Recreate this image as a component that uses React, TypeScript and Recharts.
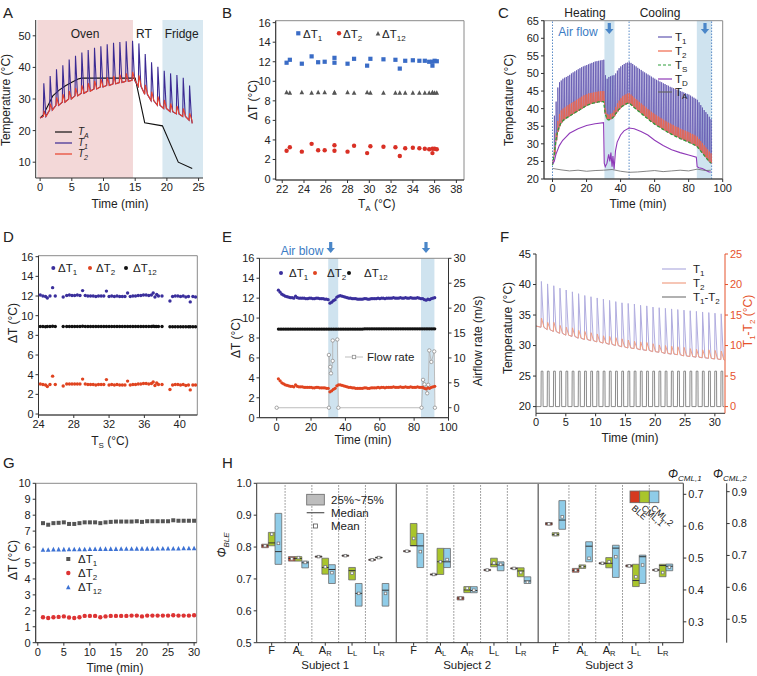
import React from 'react';
import { ComposedChart, Line, Scatter, XAxis, YAxis, ReferenceArea, ReferenceLine } from 'recharts';

// ---------------- data ----------------

// A: oven / RT / fridge cycling
const aSpikeTimes = [0.5, 1.5, 2.5, 3.5, 4.5, 5.5, 6.5, 7.5, 8.5, 9.5, 10.5, 11.5, 12.5, 13.5, 14.5, 15.5, 16.5, 17.5, 18.5, 19.5, 20.5, 21.5, 22.5, 23.5];
const aT1Peak = [35, 37.3, 39.4, 40.7, 42.5, 43.7, 44.7, 45.5, 46.2, 46.7, 47.3, 47.8, 48, 48.3, 48.4, 47.6, 44.2, 41.6, 40.2, 38.9, 38.1, 37.6, 36.7, 34.3];
const aT2Peak = [26, 28.5, 30.5, 31.5, 32.5, 33.5, 34.3, 35, 35.7, 36.3, 36.8, 37.3, 37.7, 38.1, 38.6, 37.5, 34.5, 32.3, 30.8, 29.7, 28.6, 27.8, 27, 25.5];
const aBase = [24.5, 26.5, 28, 29, 30, 31, 31.8, 32.5, 33.2, 33.8, 34.3, 34.8, 35.2, 35.6, 35.9, 34, 31.5, 29.5, 28, 27, 26, 25.3, 24.5, 23.3];
const aStart = { x: 0, y: 24 };
const aEnd = { x: 24, y: 22.3 };
const aTaTime = [0, 0.5, 1, 1.5, 2, 3, 4, 5, 6, 6.5, 15, 16.5, 19.3, 21.8, 24];
const aTaVal = [24, 25, 27, 29, 31, 32.8, 34.2, 35.3, 36.3, 36.6, 36.6, 22.5, 21.5, 10, 8];
const aZoneName = ['Oven', 'Fridge'];
const aZoneFrom = [-0.45, 19.3];
const aZoneTo = [14.65, 25.7];

// B: dT vs ambient temperature
const bTa = [22.4, 22.7, 23.8, 24.7, 25.3, 25.9, 26.8, 26.8, 28.0, 28.6, 29.8, 30.1, 31.3, 32.4, 32.8, 33.3, 34.0, 34.6, 35.1, 35.5, 35.8, 35.8, 36.0, 36.2];
const bDT1 = [11.9, 12.2, 11.8, 12.55, 11.95, 12.0, 12.4, 11.9, 11.8, 12.3, 11.6, 12.3, 12.25, 12.2, 11.3, 12.1, 12.15, 12.1, 12.1, 12.0, 12.0, 11.6, 12.1, 12.05];
const bDT2 = [2.9, 3.25, 2.8, 3.6, 2.95, 2.95, 3.45, 2.9, 2.8, 3.4, 2.65, 3.35, 3.3, 3.25, 2.35, 3.15, 3.2, 3.15, 3.1, 3.05, 3.1, 2.65, 3.1, 3.05];
const bDT12 = [8.9, 8.85, 8.9, 8.85, 8.9, 8.9, 8.9, 8.85, 8.9, 8.85, 8.9, 8.85, 8.85, 8.85, 8.85, 8.85, 8.85, 8.85, 8.85, 8.85, 8.85, 8.9, 8.85, 8.85];

// C: heating / cooling with air flow (one pulse per minute, t = 1..93)
const cT1Peak = [
  38, 42, 46, 47.5, 48, 48.5, 48.8, 49, 49.3, 49.6,
  50, 50.3, 50.6, 50.9, 51.2, 51.5, 51.8, 52, 52.2, 52.4,
  52.6, 52.8, 53, 53.2, 53.4, 53.5, 53.6, 53.7, 53.8, 53.9,
  49.5, 48.5, 49, 49.2, 49.4, 49.5, 50, 50.8, 51.5, 52,
  52.4, 52.7, 53, 53.1, 53.2, 53, 52.7, 52.3, 52, 51.6,
  51.3, 51, 50.6, 50.3, 50, 49.7, 49.4, 49.1, 48.8, 48.5,
  48.2, 48, 47.7, 47.5, 47.2, 47, 46.7, 46.5, 46.2, 46,
  45.8, 45.6, 45.4, 45.2, 45, 44.8, 44.6, 44.4, 44.2, 44,
  43.7, 43.4, 43.1, 42.8, 42.5, 41.8, 41, 40.3, 39.6, 39,
  38.4, 37.7, 37,
];
const cT2Peak = [
  28.5, 33, 36.5, 38.5, 39.5, 40, 40.3, 40.6, 41, 41.3,
  41.6, 41.9, 42.2, 42.5, 42.8, 43.1, 43.4, 43.7, 43.9, 44.1,
  44.3, 44.4, 44.5, 44.6, 44.7, 44.8, 44.9, 45, 45, 45,
  40, 38.5, 38.3, 38.5, 38.8, 39.5, 40.5, 41.5, 42.3, 43,
  43.5, 43.8, 44.1, 44.3, 44.4, 44, 43.6, 43.1, 42.7, 42.3,
  41.9, 41.5, 41.1, 40.7, 40.3, 39.9, 39.5, 39.1, 38.8, 38.4,
  38.1, 37.8, 37.5, 37.2, 36.9, 36.6, 36.3, 36, 35.8, 35.5,
  35.3, 35, 34.8, 34.6, 34.3, 34.1, 33.9, 33.7, 33.5, 33.3,
  33, 32.8, 32.6, 32.3, 32, 31.4, 30.8, 30.2, 29.6, 29,
  28.4, 27.8, 27.3,
];
const cTs = [
  27, 31, 33.5, 35, 36, 36.5, 37, 37.3, 37.6, 37.9,
  38.2, 38.5, 38.8, 39.1, 39.4, 39.7, 40, 40.3, 40.6, 40.9,
  41.1, 41.3, 41.5, 41.6, 41.7, 41.8, 41.9, 42, 42, 42,
  38.5, 37, 36.8, 37, 37.3, 37.8, 38.5, 39.2, 39.8, 40.3,
  40.7, 41, 41.3, 41.5, 41.6, 41.2, 40.8, 40.3, 39.9, 39.5,
  39.1, 38.7, 38.3, 37.9, 37.5, 37.1, 36.7, 36.3, 36, 35.6,
  35.3, 35, 34.7, 34.4, 34.1, 33.8, 33.5, 33.2, 33, 32.7,
  32.5, 32.2, 32, 31.8, 31.5, 31.3, 31.1, 30.9, 30.7, 30.5,
  30.2, 30, 29.8, 29.5, 29.2, 28.6, 28, 27.4, 26.8, 26.2,
  25.6, 25, 24.5,
];
const cStart = { x: 0, y: 24 };
const cTdTime = [0, 1, 2, 4, 6, 8, 10, 15, 20, 25, 30, 30.4, 31, 32, 33, 33.7, 34.3, 35, 35.5, 36.2, 37, 38, 40, 42, 45, 48, 52, 56, 60, 65, 70, 75, 80, 84.5, 85, 86, 88, 90, 92, 93];
const cTdVal = [24.3, 25, 27, 29.5, 31, 32, 33, 34.3, 35.2, 35.7, 36, 24.5, 23.5, 24.5, 27, 25, 27.5, 23.5, 26.5, 22.8, 28, 30.5, 32.5, 33.7, 34.5, 34.3, 33.5, 32.5, 31, 29.5, 28.3, 27.5, 26.8, 26.2, 23.5, 23.2, 23, 22.5, 22, 22];
const cTaTime = [0, 5, 10, 15, 20, 25, 30, 35, 40, 45, 50, 55, 60, 65, 70, 75, 80, 85, 90, 93];
const cTaVal = [23, 22.6, 22.3, 22.5, 22.2, 22.4, 22.5, 22.7, 22.2, 21.9, 22, 22.2, 22.4, 22.1, 22.3, 22.5, 22.3, 22.8, 22.4, 22.5];
const cFlowFrom = [30.5, 84.8];
const cFlowTo = [36.4, 93.5];
const cMarkers = [0, 45, 93.5];

// D: dT vs skin temperature
const dTs = [
  24.2, 24.5, 24.8, 25.0, 25.3, 25.6, 25.9, 26.8, 27.2, 27.5,
  27.8, 28.1, 28.4, 28.7, 29.0, 29.3, 29.6, 29.9, 30.2, 30.5,
  30.8, 31.1, 31.4, 31.7, 32.0, 32.3, 32.6, 32.9, 33.2, 33.5,
  33.8, 34.1, 34.4, 34.7, 35.0, 35.3, 35.6, 35.9, 36.2, 36.5,
  36.8, 37.0, 37.2, 37.4, 37.6, 38.0, 38.9, 39.2, 39.5, 39.8,
  40.1, 40.4, 40.7, 41.0, 41.2, 41.5, 41.8,
];
const dDT1 = [
  12.1, 12.0, 11.95, 11.8, 12.0, 12.85, 12.0, 11.9, 12.05, 12.1,
  12.05, 12.05, 12.1, 12.05, 12.55, 12.05, 12.0, 12.0, 12.0, 11.95,
  12.0, 12.0, 12.0, 12.5, 11.95, 12.0, 11.95, 12.0, 11.95, 11.95,
  11.95, 12.3, 11.95, 12.0, 12.0, 12.05, 12.05, 12.1, 12.1, 12.05,
  12.1, 12.3, 11.9, 12.15, 12.0, 12.0, 11.5, 11.95, 12.0, 12.0,
  11.95, 12.0, 11.9, 11.95, 11.4, 11.95, 11.9,
];
const dDT2 = [
  3.05, 3.0, 2.95, 2.8, 3.0, 3.85, 3.0, 2.85, 3.05, 3.05,
  3.05, 3.05, 3.05, 3.05, 3.55, 3.05, 3.0, 3.0, 3.0, 2.95,
  3.0, 3.0, 3.0, 3.5, 2.95, 3.0, 2.95, 3.0, 2.95, 2.95,
  2.95, 3.35, 2.95, 3.0, 3.0, 3.05, 3.05, 3.1, 3.1, 3.05,
  3.1, 3.25, 2.9, 3.15, 3.0, 3.0, 2.5, 2.95, 3.0, 3.0,
  2.95, 3.0, 2.9, 2.95, 2.45, 2.95, 2.95,
];
const dDT12 = [
  8.9, 8.9, 8.88, 8.9, 8.9, 8.92, 8.9, 8.9, 8.9, 8.9,
  8.9, 8.9, 8.9, 8.9, 8.92, 8.9, 8.9, 8.9, 8.9, 8.9,
  8.9, 8.9, 8.9, 8.9, 8.9, 8.9, 8.9, 8.9, 8.9, 8.9,
  8.9, 8.9, 8.9, 8.9, 8.9, 8.9, 8.9, 8.9, 8.9, 8.9,
  8.9, 8.92, 8.9, 8.9, 8.9, 8.9, 8.88, 8.88, 8.88, 8.88,
  8.88, 8.88, 8.88, 8.88, 8.88, 8.88, 8.88,
];

// E: dT over time with air blow (t = 1..92 min)
const eDT1 = [
  12.8, 12.6, 12.4, 12.3, 12.2, 12.15, 12.1, 12.05, 12.05, 12.0,
  12.2, 12.05, 12.0, 12.0, 12.0, 12.0, 11.95, 11.95, 12.0, 12.0,
  11.95, 11.95, 12.0, 12.0, 11.95, 11.95, 11.95, 11.9, 11.9, 11.85,
  11.5, 11.6, 11.75, 11.85, 12.1, 12.2, 12.25, 12.2, 12.15, 12.1,
  12.05, 12.0, 12.0, 11.95, 11.95, 11.95, 11.9, 11.9, 11.9, 11.9,
  11.95, 11.95, 11.9, 11.9, 11.95, 11.95, 11.95, 11.95, 12.0, 11.95,
  12.0, 12.0, 11.95, 12.0, 12.0, 12.0, 12.0, 12.05, 12.0, 12.0,
  12.0, 12.05, 12.0, 12.0, 12.05, 12.0, 12.0, 12.05, 12.0, 12.0,
  12.0, 12.05, 12.0, 11.95, 11.95, 11.85, 11.8, 11.9, 11.85, 11.95,
  12.0, 12.05,
];
const eDT2 = [
  3.9, 3.7, 3.5, 3.4, 3.3, 3.25, 3.2, 3.15, 3.15, 3.1,
  3.3, 3.15, 3.1, 3.1, 3.1, 3.05, 3.05, 3.05, 3.05, 3.05,
  3.0, 3.0, 3.05, 3.05, 3.0, 3.0, 3.0, 3.0, 2.95, 2.95,
  2.6, 2.7, 2.85, 2.95, 3.2, 3.3, 3.3, 3.25, 3.2, 3.15,
  3.1, 3.05, 3.05, 3.0, 3.0, 2.95, 2.95, 2.95, 2.95, 2.95,
  3.0, 3.0, 2.95, 2.95, 3.0, 3.0, 3.0, 3.0, 3.05, 3.0,
  3.05, 3.05, 3.0, 3.05, 3.05, 3.05, 3.05, 3.1, 3.05, 3.05,
  3.05, 3.1, 3.05, 3.05, 3.1, 3.05, 3.05, 3.1, 3.05, 3.05,
  3.05, 3.1, 3.05, 3.05, 3.05, 2.95, 2.9, 3.0, 2.95, 3.05,
  3.1, 3.15,
];
const eDT12 = [
  8.9, 8.9, 8.9, 8.9, 8.9, 8.9, 8.9, 8.9, 8.9, 8.9,
  8.9, 8.9, 8.9, 8.9, 8.9, 8.9, 8.9, 8.9, 8.9, 8.9,
  8.9, 8.9, 8.9, 8.9, 8.9, 8.9, 8.9, 8.9, 8.9, 8.9,
  8.9, 8.9, 8.9, 8.9, 8.9, 8.9, 8.9, 8.9, 8.9, 8.9,
  8.9, 8.9, 8.9, 8.9, 8.9, 8.9, 8.9, 8.9, 8.9, 8.9,
  8.92, 8.92, 8.92, 8.92, 8.92, 8.92, 8.92, 8.92, 8.92, 8.92,
  8.92, 8.92, 8.92, 8.92, 8.92, 8.92, 8.92, 8.92, 8.92, 8.92,
  8.92, 8.92, 8.92, 8.92, 8.92, 8.92, 8.92, 8.92, 8.92, 8.92,
  8.92, 8.92, 8.92, 8.92, 8.92, 8.92, 8.92, 8.92, 8.92, 8.92,
  8.92, 8.92,
];
const eFlowTime = [0, 30.4, 30.4, 31.2, 31.6, 32.6, 32.6, 35.3, 35.9, 84.3, 85.2, 86.0, 87.6, 88.2, 88.8, 90.0, 91.7, 92.1];
const eFlowVal = [0, 0, 10.6, 8.2, 6.9, 9.4, 13.5, 13.7, 0, 0, 5.6, 4.7, 2.9, 4.6, 11.5, 9.2, 11.3, 0];
const eBlowFrom = [30, 84];
const eBlowTo = [35.8, 91.8];

// F: pulse train over 30 min
const fSpikeTimes = [0.84, 1.88, 2.92, 3.96, 5.0, 6.04, 7.08, 8.12, 9.16, 10.2, 11.24, 12.28, 13.32, 14.36, 15.4, 16.44, 17.48, 18.52, 19.56, 20.6, 21.64, 22.68, 23.72, 24.76, 25.8, 26.84, 27.88, 28.92, 29.96, 31.0];
const fT1Peak = [40.5, 40.1, 39.8, 39.4, 39.1, 38.8, 38.5, 38.2, 38.0, 37.8, 37.6, 37.4, 37.2, 37.0, 36.9, 36.8, 36.6, 36.5, 36.3, 36.2, 36.1, 36.0, 35.9, 35.8, 35.7, 35.6, 35.5, 35.4, 35.3, 35.2];
const fT2Peak = [34.5, 33.8, 33.8, 33.3, 33.0, 32.9, 32.5, 32.3, 32.1, 31.9, 31.6, 31.5, 31.3, 31.1, 30.9, 30.7, 30.6, 30.5, 30.3, 30.1, 30.0, 29.9, 29.8, 29.7, 29.5, 29.4, 29.3, 29.3, 29.2, 29.1];
const fBase = [33.0, 32.6, 32.3, 32.0, 31.7, 31.5, 31.2, 31.0, 30.8, 30.6, 30.4, 30.2, 30.0, 29.8, 29.6, 29.5, 29.3, 29.2, 29.0, 28.9, 28.7, 28.6, 28.5, 28.3, 28.2, 28.1, 28.0, 27.9, 27.8, 27.7];
const fDiffPeak = [5.8, 5.8, 5.8, 5.8, 5.8, 5.8, 5.8, 5.8, 5.8, 5.8, 5.8, 5.8, 5.8, 5.8, 5.8, 5.8, 5.8, 5.8, 5.8, 5.8, 5.8, 5.8, 5.8, 5.8, 5.8, 5.8, 5.8, 5.8, 5.8, 5.8];
const fStart = { x: 0, y: 33.2 };
const fEnd = { x: 31.6, y: 27.6 };

// G: dT over 30 min
const gDT1 = [7.5, 7.4, 7.5, 7.52, 7.55, 7.45, 7.45, 7.5, 7.55, 7.55, 7.55, 7.5, 7.55, 7.58, 7.6, 7.6, 7.6, 7.6, 7.62, 7.58, 7.62, 7.62, 7.62, 7.62, 7.62, 7.68, 7.65, 7.65, 7.65, 7.65];
const gDT2 = [1.6, 1.55, 1.6, 1.62, 1.65, 1.58, 1.55, 1.6, 1.68, 1.68, 1.68, 1.6, 1.65, 1.68, 1.68, 1.68, 1.68, 1.7, 1.7, 1.65, 1.7, 1.7, 1.7, 1.7, 1.7, 1.72, 1.7, 1.7, 1.7, 1.72];
const gDT12 = [5.85, 5.85, 5.87, 5.87, 5.87, 5.88, 5.88, 5.88, 5.88, 5.89, 5.89, 5.9, 5.9, 5.9, 5.9, 5.91, 5.91, 5.91, 5.92, 5.92, 5.92, 5.92, 5.93, 5.93, 5.93, 5.93, 5.93, 5.94, 5.94, 5.94];

// H: box stats [q1, q3, median, mean], subject-major, sites F, AL, AR, LL, LR
const hSubjects = ['Subject 1', 'Subject 2', 'Subject 3'];
const hSites = ['F', 'AL', 'AR', 'LL', 'LR'];
const hBle = [
  [0.798, 0.809, 0.804, 0.804], [0.756, 0.770, 0.764, 0.763], [0.768, 0.772, 0.770, 0.770], [0.771, 0.775, 0.773, 0.773], [0.758, 0.762, 0.760, 0.760],
  [0.785, 0.789, 0.787, 0.787], [0.712, 0.716, 0.714, 0.714], [0.634, 0.644, 0.640, 0.640], [0.726, 0.730, 0.728, 0.728], [0.731, 0.735, 0.733, 0.733],
  [0.869, 0.877, 0.873, 0.873], [0.721, 0.733, 0.727, 0.727], [0.747, 0.751, 0.749, 0.749], [0.738, 0.744, 0.741, 0.741], [0.726, 0.730, 0.728, 0.728],
];
const hCml1 = [
  [0.5385, 0.5805, 0.5475, 0.575], [0.4905, 0.5045, 0.4985, 0.5015], [0.4495, 0.4995, 0.4705, 0.4725], [0.4315, 0.4705, 0.4605, 0.4525], [0.500, 0.503, 0.5015, 0.5015],
  [0.5385, 0.6085, 0.539, 0.5615], [0.4485, 0.5305, 0.4885, 0.4885], [0.3915, 0.4105, 0.400, 0.4055], [0.4725, 0.4995, 0.4805, 0.4845], [0.4415, 0.4695, 0.4595, 0.4545],
  [0.5695, 0.5795, 0.574, 0.574], [0.4675, 0.4785, 0.473, 0.473], [0.4695, 0.5015, 0.4835, 0.4885], [0.4105, 0.4805, 0.4295, 0.4415], [0.4415, 0.4805, 0.4765, 0.4545],
];
const hCml2 = [
  [0.672, 0.832, 0.712, 0.738], [0.661, 0.682, 0.677, 0.678], [0.612, 0.671, 0.656, 0.646], [0.541, 0.612, 0.581, 0.581], [0.541, 0.612, 0.591, 0.581],
  [0.662, 0.769, 0.730, 0.712], [0.662, 0.722, 0.680, 0.687], [0.583, 0.602, 0.590, 0.591], [0.652, 0.680, 0.670, 0.672], [0.612, 0.633, 0.620, 0.616],
  [0.782, 0.872, 0.811, 0.821], [0.680, 0.743, 0.729, 0.691], [0.631, 0.732, 0.723, 0.696], [0.612, 0.701, 0.696, 0.670], [0.652, 0.673, 0.666, 0.663],
];

// ---------------- layout / style ----------------

const W = 757;
const H = 676;
const FONT = '"Liberation Sans", Arial, Helvetica, sans-serif';
const AXIS = '#333';
const FRAME = '#8a8a8a';
const BLUE_TXT = '#3b7cc4';
const BAND = '#cfe3ef';
const tickStyle = { fontSize: 11, fill: '#222', fontFamily: FONT };
const layer: React.CSSProperties = { position: 'absolute', left: 0, top: 0, width: W, height: H };

const COL = {
  aTA: '#111', aT1: '#3b2a93', aT2: '#e8412c', oven: '#f3d8d8', fridge: '#d8e8f1',
  bDT1: '#3a6cc6', bDT2: '#d93025', bDT12: '#555',
  cT1: '#6156b0', cT2: '#f0674a', cTS: '#2e9e3a', cTD: '#8f39b8', cTA: '#666',
  dDT1: '#3a2f9c', dDT2: '#e04420', dDT12: '#111', flow: '#9a9a9a',
  fT1: '#b1addf', fT2: '#f0a085', fDiff: '#7d7d7d', fAxis: '#e5532d',
  gDT1: '#555', gDT2: '#dd3333', gDT12: '#3d72d4',
  hBle: '#d5391f', hCml1: '#a9c52b', hCml2: '#8fcce8', hEdge: '#6b6b6b',
};

type Box = { x0: number; y0: number; x1: number; y1: number };
const marginFor = (b: Box, left: number, right: number, bottom: number) => ({
  left: b.x0 - left, right: W - b.x1 - right, top: b.y0, bottom: H - b.y1 - bottom,
});

const xNum = (domain: number[], ticks: number[], extra: any = {}) => ({
  type: 'number' as const, dataKey: 'x', domain, ticks, allowDataOverflow: true, interval: 0,
  tick: tickStyle, tickSize: 3, stroke: AXIS, height: 20, ...extra,
});
const yNum = (domain: number[], ticks: number[], width: number, extra: any = {}) => ({
  type: 'number' as const, domain, ticks, allowDataOverflow: true, interval: 0,
  tick: tickStyle, tickSize: 3, stroke: AXIS, width, ...extra,
});

const pts = (xs: number[], ys: number[]) => xs.map((x, i) => ({ x, y: ys[i] }));
const minutes = (n: number) => Array.from({ length: n }, (_, i) => i + 1);

function spikeLine(times: number[], bases: number[], peaks: number[], rise: number, fall: number, start?: any, end?: any) {
  const out: { x: number; y: number }[] = [];
  if (start) out.push(start);
  times.forEach((t, i) => {
    out.push({ x: t, y: bases[i] });
    out.push({ x: t + rise, y: peaks[i] });
    out.push({ x: t + fall, y: bases[i] });
  });
  if (end) out.push(end);
  return out;
}

function pulseLine(times: number[], heights: number[], rise: number, width: number, start: number, end: number) {
  const out = [{ x: start, y: 0 }];
  times.forEach((t, i) => {
    out.push({ x: t, y: 0 }, { x: t + rise, y: heights[i] }, { x: t + width, y: heights[i] }, { x: t + width + rise, y: 0 });
  });
  out.push({ x: end, y: 0 });
  return out;
}

const sq = (color: string, s = 4, hollow = false) => (p: any) => (
  <rect x={p.cx - s / 2} y={p.cy - s / 2} width={s} height={s} fill={hollow ? '#fff' : color} stroke={color} strokeWidth={hollow ? 0.8 : 0} />
);
const dot = (color: string, r = 2) => (p: any) => <circle cx={p.cx} cy={p.cy} r={r} fill={color} />;
const tri = (color: string, s = 4.6) => (p: any) => (
  <polygon points={`${p.cx},${p.cy - s / 2} ${p.cx - s / 2},${p.cy + s / 2} ${p.cx + s / 2},${p.cy + s / 2}`} fill={color} />
);

const frame = (xd: number[], yd: number[], yAxisId: any = 0) => (
  <ReferenceArea x1={xd[0]} x2={xd[1]} y1={yd[0]} y2={yd[1]} yAxisId={yAxisId} fill="none" stroke={FRAME} strokeWidth={1} />
);

const lineProps = { dot: false, isAnimationActive: false, type: 'linear' as const, activeDot: false };

// ---------------- panels ----------------

const boxA = { x0: 35.7, y0: 20, x1: 203, y1: 178 };
function PanelA() {
  const t1 = spikeLine(aSpikeTimes, aBase, aT1Peak, 0.08, 0.4, aStart, aEnd);
  const t2 = spikeLine(aSpikeTimes, aBase, aT2Peak, 0.1, 0.45, aStart, aEnd);
  const zoneCol = [COL.oven, COL.fridge];
  return (
    <div style={layer}>
      <ComposedChart width={W} height={H} margin={marginFor(boxA, 30, 0, 20)}>
        <XAxis {...xNum([-0.7, 25.7], [0, 5, 10, 15, 20, 25])} />
        <YAxis {...yNum([5, 55], [10, 20, 30, 40, 50], 30)} />
        {aZoneName.map((n, i) => (
          <ReferenceArea key={n} x1={aZoneFrom[i]} x2={aZoneTo[i]} y1={5} y2={55} fill={zoneCol[i]} fillOpacity={1} stroke="none" ifOverflow="hidden" />
        ))}
        <Line data={pts(aTaTime, aTaVal)} dataKey="y" stroke={COL.aTA} strokeWidth={1.1} {...lineProps} />
        <Line data={t1} dataKey="y" stroke={COL.aT1} strokeWidth={1.1} {...lineProps} />
        <Line data={t2} dataKey="y" stroke={COL.aT2} strokeWidth={1.1} {...lineProps} />
      </ComposedChart>
    </div>
  );
}

const boxB = { x0: 275.7, y0: 20.7, x1: 464, y1: 180 };
function PanelB() {
  const xd = [21.4, 38.7];
  const yd = [-0.1, 16.2];
  return (
    <div style={layer}>
      <ComposedChart width={W} height={H} margin={marginFor(boxB, 30, 0, 20)}>
        <XAxis {...xNum(xd, [22, 24, 26, 28, 30, 32, 34, 36, 38])} />
        <YAxis {...yNum(yd, [0, 2, 4, 6, 8, 10, 12, 14, 16], 30)} />
        {frame(xd, yd)}
        <Scatter data={pts(bTa, bDT12)} dataKey="y" shape={tri(COL.bDT12)} isAnimationActive={false} />
        <Scatter data={pts(bTa, bDT2)} dataKey="y" shape={dot(COL.bDT2, 2.2)} isAnimationActive={false} />
        <Scatter data={pts(bTa, bDT1)} dataKey="y" shape={sq(COL.bDT1, 4.2)} isAnimationActive={false} />
      </ComposedChart>
    </div>
  );
}

const boxC = { x0: 544, y0: 20.7, x1: 722.7, y1: 179 };
function PanelC() {
  const xd = [-5, 100];
  const yd = [20, 65];
  const times = minutes(cT1Peak.length);
  const t1 = spikeLine(times, cTs, cT1Peak, 0.12, 0.45, cStart);
  const t2 = spikeLine(times, cTs, cT2Peak, 0.12, 0.5, cStart);
  const ts = [cStart, ...pts(times, cTs)];
  return (
    <div style={layer}>
      <ComposedChart width={W} height={H} margin={marginFor(boxC, 30, 0, 20)}>
        <XAxis {...xNum(xd, [0, 20, 40, 60, 80, 100])} />
        <YAxis {...yNum(yd, [20, 25, 30, 35, 40, 45, 50, 55, 60, 65], 30)} />
        {cFlowFrom.map((f, i) => (
          <ReferenceArea key={f} x1={f} x2={cFlowTo[i]} y1={20} y2={65} fill={BAND} fillOpacity={1} stroke="none" />
        ))}
        {cMarkers.map((m) => (
          <ReferenceLine key={m} x={m} stroke="#4a7fc1" strokeDasharray="1.5 1.5" strokeWidth={0.9} />
        ))}
        {frame(xd, yd)}
        <Line data={t1} dataKey="y" stroke={COL.cT1} strokeWidth={0.8} {...lineProps} />
        <Line data={t2} dataKey="y" stroke={COL.cT2} strokeWidth={0.8} {...lineProps} />
        <Line data={ts} dataKey="y" stroke={COL.cTS} strokeWidth={1.3} strokeDasharray="3 2" {...lineProps} />
        <Line data={pts(cTdTime, cTdVal)} dataKey="y" stroke={COL.cTD} strokeWidth={1.1} {...lineProps} />
        <Line data={pts(cTaTime, cTaVal)} dataKey="y" stroke={COL.cTA} strokeWidth={0.8} {...lineProps} />
      </ComposedChart>
    </div>
  );
}

const boxD = { x0: 38.5, y0: 255.7, x1: 197.3, y1: 415 };
function PanelD() {
  const xd = [24, 42];
  const yd = [-0.1, 16.1];
  return (
    <div style={layer}>
      <ComposedChart width={W} height={H} margin={marginFor(boxD, 30, 0, 20)}>
        <XAxis {...xNum(xd, [24, 28, 32, 36, 40])} />
        <YAxis {...yNum(yd, [0, 2, 4, 6, 8, 10, 12, 14, 16], 30)} />
        {frame(xd, yd)}
        <Scatter data={pts(dTs, dDT12)} dataKey="y" shape={dot(COL.dDT12, 1.7)} isAnimationActive={false} />
        <Scatter data={pts(dTs, dDT2)} dataKey="y" shape={dot(COL.dDT2, 1.7)} isAnimationActive={false} />
        <Scatter data={pts(dTs, dDT1)} dataKey="y" shape={dot(COL.dDT1, 1.7)} isAnimationActive={false} />
      </ComposedChart>
    </div>
  );
}

const boxE = { x0: 259.5, y0: 258.3, x1: 448.5, y1: 417.7 };
function PanelE() {
  const xd = [-10, 100];
  const yd = [0, 16];
  const t = minutes(eDT1.length);
  return (
    <div style={layer}>
      <ComposedChart width={W} height={H} margin={marginFor(boxE, 30, 30, 20)}>
        <XAxis {...xNum(xd, [0, 20, 40, 60, 80, 100])} />
        <YAxis yAxisId="l" {...yNum(yd, [0, 2, 4, 6, 8, 10, 12, 14, 16], 30)} />
        <YAxis yAxisId="r" orientation="right" {...yNum([-2, 30], [0, 5, 10, 15, 20, 25, 30], 30)} />
        {eBlowFrom.map((f, i) => (
          <ReferenceArea key={f} yAxisId="l" x1={f} x2={eBlowTo[i]} y1={0} y2={16} fill={BAND} fillOpacity={1} stroke="none" />
        ))}
        {frame(xd, yd, 'l')}
        <Line yAxisId="r" data={pts(eFlowTime, eFlowVal)} dataKey="y" stroke="#b5b5b5" strokeWidth={0.9} isAnimationActive={false}
          dot={{ r: 1.7, fill: '#fff', stroke: '#8f8f8f', strokeWidth: 0.8 }} activeDot={false} />
        <Scatter yAxisId="l" data={pts(t, eDT12)} dataKey="y" shape={dot(COL.dDT12, 1.6)} isAnimationActive={false} />
        <Scatter yAxisId="l" data={pts(t, eDT2)} dataKey="y" shape={dot(COL.dDT2, 1.6)} isAnimationActive={false} />
        <Scatter yAxisId="l" data={pts(t, eDT1)} dataKey="y" shape={dot(COL.dDT1, 1.6)} isAnimationActive={false} />
      </ComposedChart>
    </div>
  );
}

const boxF = { x0: 536, y0: 254, x1: 725, y1: 413.3 };
function PanelF() {
  const xd = [0, 31.7];
  const yd = [18.9, 45];
  const t1 = spikeLine(fSpikeTimes, fBase, fT1Peak, 0.06, 0.45, fStart, fEnd);
  const t2 = spikeLine(fSpikeTimes, fBase, fT2Peak, 0.08, 0.5, fStart, fEnd);
  const diff = pulseLine(fSpikeTimes, fDiffPeak, 0.03, 0.32, 0, 31.6);
  return (
    <div style={layer}>
      <ComposedChart width={W} height={H} margin={marginFor(boxF, 30, 25, 20)}>
        <XAxis {...xNum(xd, [0, 5, 10, 15, 20, 25, 30])} />
        <YAxis yAxisId="l" {...yNum(yd, [20, 25, 30, 35, 40, 45], 30)} />
        <YAxis yAxisId="r" orientation="right"
          {...yNum([-1.1, 25], [0, 5, 10, 15, 20, 25], 25, { stroke: COL.fAxis, tick: { ...tickStyle, fill: COL.fAxis } })} />
        <Line yAxisId="l" data={t1} dataKey="y" stroke={COL.fT1} strokeWidth={1} {...lineProps} />
        <Line yAxisId="l" data={t2} dataKey="y" stroke={COL.fT2} strokeWidth={1} {...lineProps} />
        <Line yAxisId="r" data={diff} dataKey="y" stroke={COL.fDiff} strokeWidth={0.9} {...lineProps} />
      </ComposedChart>
    </div>
  );
}

const boxG = { x0: 35.7, y0: 483.3, x1: 196.7, y1: 642.7 };
function PanelG() {
  const xd = [-0.4, 30.5];
  const yd = [0, 10];
  const t = minutes(gDT1.length);
  return (
    <div style={layer}>
      <ComposedChart width={W} height={H} margin={marginFor(boxG, 30, 0, 20)}>
        <XAxis {...xNum(xd, [0, 5, 10, 15, 20, 25, 30])} />
        <YAxis {...yNum(yd, [0, 1, 2, 3, 4, 5, 6, 7, 8, 9, 10], 30)} />
        {frame(xd, yd)}
        <Scatter data={pts(t, gDT1)} dataKey="y" shape={sq(COL.gDT1, 4)} isAnimationActive={false} />
        <Scatter data={pts(t, gDT2)} dataKey="y" shape={dot(COL.gDT2, 2.2)} isAnimationActive={false} />
        <Scatter data={pts(t, gDT12)} dataKey="y" shape={tri(COL.gDT12, 4.6)} isAnimationActive={false} />
      </ComposedChart>
    </div>
  );
}

const boxH = { x0: 256.7, y0: 483.3, x1: 683.3, y1: 642.7 };
const SUBJECT_GAP = 0.3;
const BOX_W = 0.25;
const sitePos = (s: number, k: number) => 1 + k + s * (hSites.length + SUBJECT_GAP);

function SiteTick(props: any) {
  const { x, y, payload } = props;
  let label = '';
  hSubjects.forEach((_, s) => hSites.forEach((site, k) => {
    if (Math.abs(sitePos(s, k) - payload.value) < 1e-6) label = site;
  }));
  return (
    <text x={x} y={y + 6} textAnchor="middle" fontSize={11} fontFamily={FONT} fill="#222">
      <tspan>{label.slice(0, 1)}</tspan>
      {label.length > 1 && <tspan dy={2} fontSize={7.5}>{label.slice(1)}</tspan>}
    </text>
  );
}

function PanelH() {
  const xd = [0.44, 16.37];
  const cats: { pos: number; idx: number }[] = [];
  hSubjects.forEach((_, s) => hSites.forEach((__, k) => cats.push({ pos: sitePos(s, k), idx: s * hSites.length + k })));
  const subjCenters = hSubjects.map((_, s) => (sitePos(s, 0) + sitePos(s, hSites.length - 1)) / 2);
  const dividers: { x: number; solid: boolean }[] = [];
  cats.forEach((c, i) => {
    if (i === cats.length - 1) return;
    const next = cats[i + 1];
    dividers.push({ x: (c.pos + next.pos) / 2, solid: (i + 1) % hSites.length === 0 });
  });
  const series = [
    { id: 'ble', stats: hBle, off: -BOX_W, color: COL.hBle },
    { id: 'c1', stats: hCml1, off: 0, color: COL.hCml1 },
    { id: 'c2', stats: hCml2, off: BOX_W, color: COL.hCml2 },
  ];
  return (
    <div style={layer}>
      <ComposedChart width={W} height={H} margin={marginFor(boxH, 30, 73.4, 33)}>
        <XAxis {...xNum(xd, cats.map((c) => c.pos), { tick: <SiteTick />, height: 16 })} />
        <XAxis xAxisId="subj" {...xNum(xd, subjCenters, {
          tickFormatter: (v: number) => hSubjects[subjCenters.findIndex((c) => Math.abs(c - v) < 1e-6)] || '',
          axisLine: false, tickLine: false, tickSize: 0, height: 17, tick: { ...tickStyle, fontSize: 11.5 },
        })} />
        <YAxis yAxisId="ble" {...yNum([0.5, 1.0], [0.5, 0.6, 0.7, 0.8, 0.9, 1.0], 30, { tickFormatter: (v: number) => v.toFixed(1) })} />
        <YAxis yAxisId="c1" orientation="right" {...yNum([0.2345, 0.7345], [0.3, 0.4, 0.5, 0.6, 0.7], 43.4, { tickFormatter: (v: number) => v.toFixed(1) })} />
        <YAxis yAxisId="c2" orientation="right" {...yNum([0.4263, 0.9263], [0.5, 0.6, 0.7, 0.8, 0.9], 30, { tickFormatter: (v: number) => v.toFixed(1) })} />
        {dividers.map((d) => (
          <ReferenceLine key={d.x} yAxisId="ble" x={d.x} stroke={d.solid ? '#333' : '#666'} strokeWidth={d.solid ? 1 : 0.8}
            strokeDasharray={d.solid ? undefined : '1.5 1.5'} />
        ))}
        <ReferenceLine yAxisId="ble" y={1.0} stroke={FRAME} strokeWidth={1.6} />
        {series.map((sr) => cats.map((c) => {
          const [q1, q3] = sr.stats[c.idx];
          return (
            <ReferenceArea key={`${sr.id}-${c.idx}`} yAxisId={sr.id} x1={c.pos + sr.off - BOX_W / 2} x2={c.pos + sr.off + BOX_W / 2}
              y1={q1} y2={q3} fill={sr.color} fillOpacity={1} stroke={COL.hEdge} strokeWidth={0.8} />
          );
        }))}
        {series.map((sr) => cats.map((c) => (
          <ReferenceLine key={`m-${sr.id}-${c.idx}`} yAxisId={sr.id} stroke="#333" strokeWidth={1}
            segment={[{ x: c.pos + sr.off - BOX_W / 2, y: sr.stats[c.idx][2] }, { x: c.pos + sr.off + BOX_W / 2, y: sr.stats[c.idx][2] }]} />
        )))}
        {series.map((sr) => (
          <Scatter key={`mean-${sr.id}`} yAxisId={sr.id} data={cats.map((c) => ({ x: c.pos + sr.off, y: sr.stats[c.idx][3] }))}
            dataKey="y" shape={sq('#7a7a7a', 2.6, true)} isAnimationActive={false} />
        ))}
      </ComposedChart>
    </div>
  );
}

// ---------------- text overlay ----------------

function T({ x, y, children, size = 12, anchor = 'middle', rot = 0, fill = '#222', italic = false }: any) {
  return (
    <text x={x} y={y} fontSize={size} textAnchor={anchor} fill={fill} fontFamily={FONT}
      fontStyle={italic ? 'italic' : 'normal'} transform={rot ? `rotate(${rot} ${x} ${y})` : undefined}>
      {children}
    </text>
  );
}
const Sub = ({ s, size = 8 }: any) => <tspan dy={3} fontSize={size}>{s}</tspan>;
const Up = ({ s }: any) => <tspan dy={-3}>{s}</tspan>;

function Arrow({ x, y }: any) {
  return (
    <g fill="#4a86c8">
      <rect x={x - 1.6} y={y - 6} width={3.2} height={6} />
      <polygon points={`${x - 4.2},${y} ${x + 4.2},${y} ${x},${y + 5}`} />
    </g>
  );
}

function LegendLine({ x, y, w, color, dash, width = 1.2 }: any) {
  return <line x1={x} x2={x + w} y1={y} y2={y} stroke={color} strokeWidth={width} strokeDasharray={dash} />;
}

function Overlay() {
  const letters = [['A', 3, 18], ['B', 222, 18], ['C', 498, 18], ['D', 3, 242], ['E', 222, 242], ['F', 500, 242], ['G', 3, 468], ['H', 222, 468]];
  return (
    <svg width={W} height={H} style={{ position: 'absolute', left: 0, top: 0, pointerEvents: 'none' }}>
      {letters.map(([l, x, y]) => <T key={l as string} x={x} y={y} size={15} anchor="start">{l}</T>)}

      {/* A */}
      <T x={10} y={100} rot={-90}>Temperature (°C)</T>
      <T x={120} y={208}>Time (min)</T>
      <T x={85} y={37.5}>Oven</T>
      <T x={144} y={37.5}>RT</T>
      <T x={181.7} y={37.5}>Fridge</T>
      {[['A', COL.aTA, 132], ['1', COL.aT1, 143], ['2', COL.aT2, 154]].map(([s, c, y]: any) => (
        <g key={s}>
          <LegendLine x={55} y={y} w={17} color={c} />
          <T x={78} y={y + 3} anchor="start" size={10} italic>T<Sub s={s} size={7} /></T>
        </g>
      ))}

      {/* B */}
      <T x={257} y={100} rot={-90}>ΔT (°C)</T>
      <T x={376.7} y={208}>T<Sub s="A" /><Up s=" (°C)" /></T>
      {sq(COL.bDT1, 4.2)({ cx: 298.3, cy: 33.3 })}
      <T x={303} y={37.5} anchor="start" size={11.5}>ΔT<Sub s="1" /></T>
      {dot(COL.bDT2, 2.2)({ cx: 339, cy: 33.3 })}
      <T x={343} y={37.5} anchor="start" size={11.5}>ΔT<Sub s="2" /></T>
      {tri(COL.bDT12)({ cx: 378, cy: 33.3 })}
      <T x={382} y={37.5} anchor="start" size={11.5}>ΔT<Sub s="12" /></T>

      {/* C */}
      <T x={513} y={100} rot={-90}>Temperature (°C)</T>
      <T x={638} y={208}>Time (min)</T>
      <T x={585} y={16.5}>Heating</T>
      <T x={660} y={16.5}>Cooling</T>
      <T x={578} y={36} fill={BLUE_TXT}>Air flow</T>
      <Arrow x={609.3} y={29} />
      <Arrow x={705} y={29} />
      {[['1', COL.cT1, 37, undefined], ['2', COL.cT2, 51, undefined], ['S', COL.cTS, 65, '3 2'], ['D', COL.cTD, 79, undefined], ['A', COL.cTA, 92, undefined]].map(([s, c, y, dash]: any) => (
        <g key={s}>
          <LegendLine x={658} y={y} w={14} color={c} dash={dash} />
          <T x={675} y={y + 4} anchor="start" size={11.5}>T<Sub s={s} /></T>
        </g>
      ))}

      {/* D */}
      <T x={17} y={323} rot={-90}>ΔT (°C)</T>
      <T x={110} y={445}>T<Sub s="S" /><Up s=" (°C)" /></T>
      {dot(COL.dDT1)({ cx: 53.3, cy: 268 })}
      <T x={58} y={272} anchor="start" size={11.5}>ΔT<Sub s="1" /></T>
      {dot(COL.dDT2)({ cx: 90, cy: 268 })}
      <T x={96} y={272} anchor="start" size={11.5}>ΔT<Sub s="2" /></T>
      {dot(COL.dDT12)({ cx: 126, cy: 268 })}
      <T x={133} y={272} anchor="start" size={11.5}>ΔT<Sub s="12" /></T>

      {/* E */}
      <T x={240} y={338} rot={-90}>ΔT (°C)</T>
      <T x={482} y={341} rot={-90}>Airflow rate (m/s)</T>
      <T x={363} y={444}>Time (min)</T>
      <T x={302} y={254.5} fill={BLUE_TXT}>Air blow</T>
      <Arrow x={330.7} y={248} />
      <Arrow x={426} y={248} />
      {dot(COL.dDT1)({ cx: 281, cy: 273 })}
      <T x={289} y={277} anchor="start" size={11.5}>ΔT<Sub s="1" /></T>
      {dot(COL.dDT2)({ cx: 315, cy: 273 })}
      <T x={327} y={277} anchor="start" size={11.5}>ΔT<Sub s="2" /></T>
      {dot(COL.dDT12)({ cx: 349, cy: 273 })}
      <T x={364} y={277} anchor="start" size={11.5}>ΔT<Sub s="12" /></T>
      <LegendLine x={345} y={357} w={18} color="#b5b5b5" width={0.9} />
      {sq('#8f8f8f', 3.4, true)({ cx: 354, cy: 357 })}
      <T x={367} y={361} anchor="start" size={11.5}>Flow rate</T>

      {/* F */}
      <T x={512} y={328} rot={-90}>Temperature (°C)</T>
      <T x={752} y={321} rot={-90} fill={COL.fAxis}>T<Sub s="1" /><Up s="-T" /><Sub s="2" /><Up s=" (°C)" /></T>
      <T x={630} y={442}>Time (min)</T>
      {[['1', COL.fT1, 269, 'T'], ['2', COL.fT2, 283, 'T'], ['1', COL.fDiff, 297, 'D']].map(([s, c, y, k]: any) => (
        <g key={`${s}${y}`}>
          <LegendLine x={662} y={y} w={24} color={c} />
          {k === 'T'
            ? <T x={693} y={y + 4} anchor="start" size={11.5}>T<Sub s={s} /></T>
            : <T x={693} y={y + 4} anchor="start" size={11.5}>T<Sub s="1" /><Up s="-T" /><Sub s="2" /></T>}
        </g>
      ))}

      {/* G */}
      <T x={17} y={560} rot={-90}>ΔT (°C)</T>
      <T x={115} y={672}>Time (min)</T>
      {sq(COL.gDT1, 4)({ cx: 68.3, cy: 559 })}
      <T x={78} y={563} anchor="start" size={11.5}>ΔT<Sub s="1" /></T>
      {dot(COL.gDT2, 2.2)({ cx: 68.3, cy: 573 })}
      <T x={78} y={577} anchor="start" size={11.5}>ΔT<Sub s="2" /></T>
      {tri(COL.gDT12, 4.6)({ cx: 68.3, cy: 587 })}
      <T x={78} y={591} anchor="start" size={11.5}>ΔT<Sub s="12" /></T>

      {/* H */}
      <T x={226} y={545} rot={-90} italic>Φ<Sub s="BLE" size={8} /></T>
      <T x={668} y={478} anchor="start" italic>Φ<Sub s="CML,1" size={8} /></T>
      <T x={713} y={478} anchor="start" italic>Φ<Sub s="CML,2" size={8} /></T>
      <rect x={306.7} y={494.3} width={17.6} height={10.7} fill="#bdbdbd" stroke="#666" strokeWidth={0.8} />
      <T x={331} y={503.5} anchor="start" size={11.5}>25%~75%</T>
      <line x1={306.7} x2={324.3} y1={512.7} y2={512.7} stroke="#555" strokeWidth={1.2} />
      <T x={331} y={517} anchor="start" size={11.5}>Median</T>
      {sq('#555', 4, true)({ cx: 315.5, cy: 526 })}
      <T x={331} y={530} anchor="start" size={11.5}>Mean</T>
      {[[630, COL.hBle, 'BLE'], [639.7, COL.hCml1, 'CML,1'], [649.3, COL.hCml2, 'CML,2']].map(([x, c, l]: any) => (
        <g key={l}>
          <rect x={x} y={491} width={9.6} height={11.7} fill={c} stroke="#666" strokeWidth={0.8} />
          <T x={x + 1} y={509} rot={42} anchor="start" size={9}>{l}</T>
        </g>
      ))}
    </svg>
  );
}

export default function App() {
  return (
    <div style={{ position: 'absolute', left: 0, top: 0, width: W, height: H, background: '#fff', fontFamily: FONT, overflow: 'hidden' }}>
      <PanelA />
      <PanelB />
      <PanelC />
      <PanelD />
      <PanelE />
      <PanelF />
      <PanelG />
      <PanelH />
      <Overlay />
    </div>
  );
}
